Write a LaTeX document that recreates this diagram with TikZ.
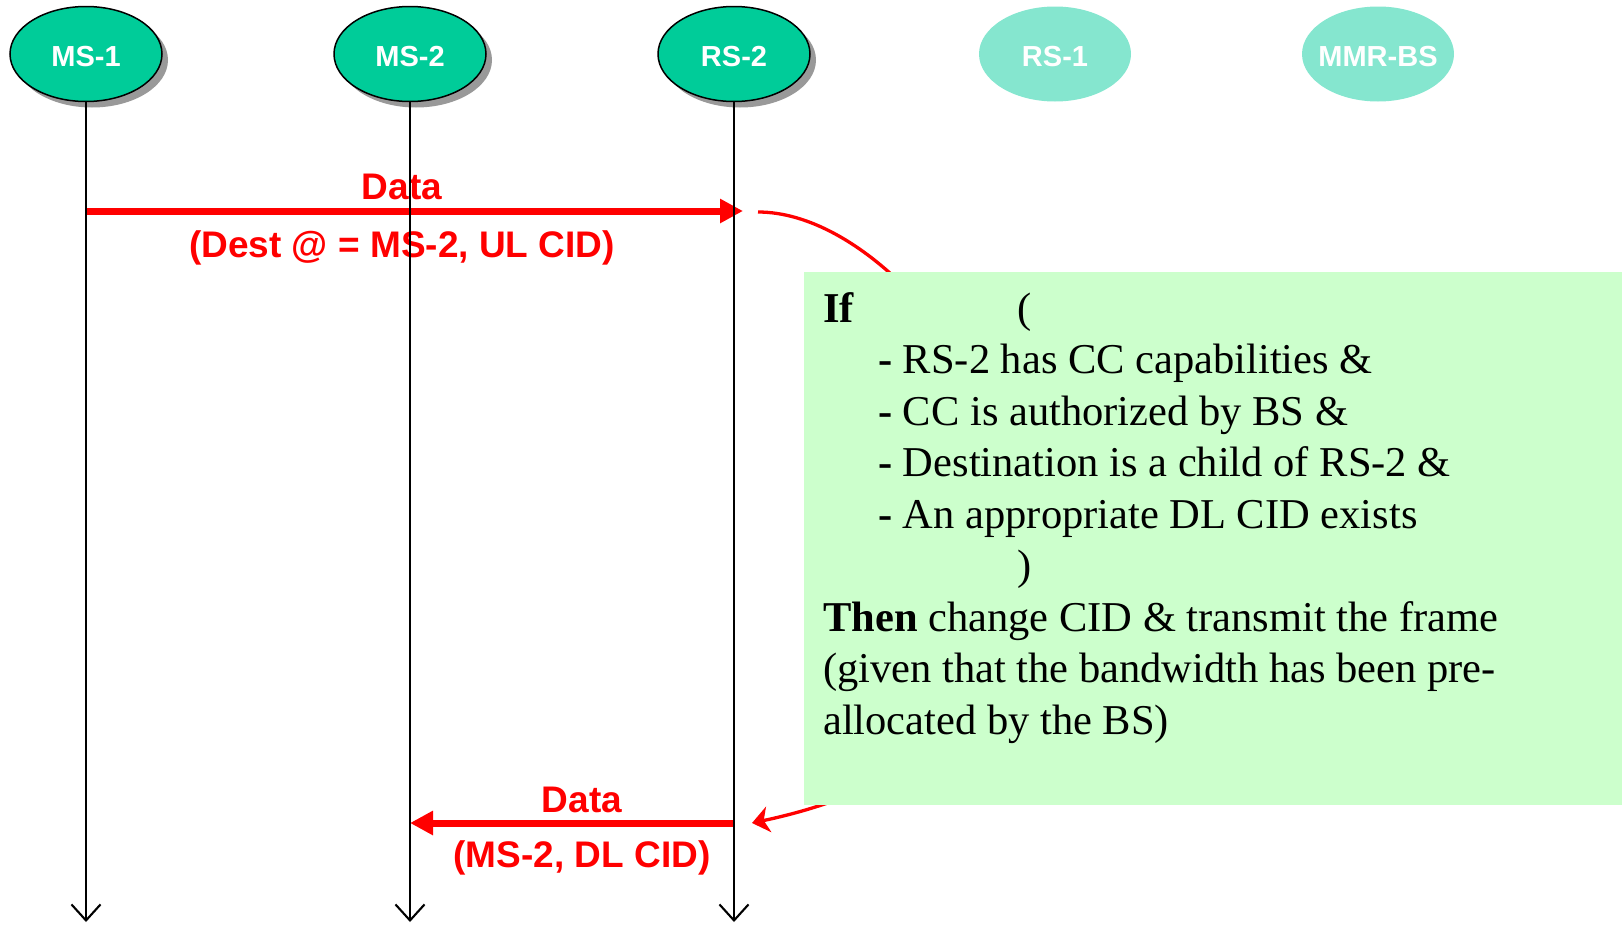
\documentclass[tikz,border=0pt]{standalone}
\usepackage{fontspec}
\setmainfont{Liberation Serif}
\newfontfamily\arialfont{Liberation Sans}
\usetikzlibrary{shapes.geometric,arrows.meta,shadows}
\definecolor{nodegreen}{HTML}{00CC99}
\definecolor{nodepale}{HTML}{85E6CF}
\definecolor{notegreen}{HTML}{CCFFCC}
\definecolor{msgred}{HTML}{FF0000}
\begin{document}
\begin{tikzpicture}[x=1pt,y=-1pt,
  station/.style={ellipse, minimum width=152pt, minimum height=95pt, inner sep=0pt,
    text height=25pt, text depth=0pt,
    font=\arialfont\bfseries\fontsize{29pt}{33pt}\selectfont, text=white},
  active/.style={station, fill=nodegreen, draw=black, line width=1.5pt,
    drop shadow={shadow xshift=6pt, shadow yshift=-6pt, fill=black!40, opacity=1}},
  idle/.style={station, fill=nodepale},
  lifeline/.style={line width=2.1pt, -{Straight Barb[length=16pt,width=29pt,line width=2.1pt]}},
  msg/.style={draw=msgred, line width=7pt, -{Triangle[length=23pt,width=23pt]}},
  msglabel/.style={text=msgred, font=\arialfont\bfseries\fontsize{37pt}{44pt}\selectfont,
    anchor=base, inner sep=0pt},
  notetext/.style={font=\fontsize{42.5pt}{51.5pt}\selectfont, anchor=base west, inner sep=0pt},
]
\useasboundingbox (0,0) rectangle (1622,924);

% stations
\node[active] (ms1) at (86,54) {MS-1};
\node[active] (ms2) at (410,54) {MS-2};
\node[active] (rs2) at (734,54) {RS-2};
\node[idle] (rs1) at (1055,54) {RS-1};
\node[idle] (bs) at (1378,54) {\makebox[0pt]{MMR-BS}};

% anchor points of the messages
\coordinate (upRow) at (0,211);
\coordinate (upTip) at (743,211);
\coordinate (downRow) at (0,823);
\coordinate (relayIn) at (758,212);
\coordinate (relayOut) at (752,823);
\coordinate (floor) at (0,922);

% relay decision curve, running behind the note
\draw[msgred, line width=3.3pt, -{Stealth[length=17pt,width=26pt,inset=5pt]}]
  (relayIn) .. controls (958,212) and (1241,719) .. (relayOut);

% decision note
\node[fill=notegreen, minimum width=818pt, minimum height=533pt, anchor=north west,
  inner sep=0pt] (note) at (804,272) {};
\node[notetext] (c1) at (823,322) {\textbf{If}};
\node[notetext] (c1b) at (1017,322) {(};
\node[notetext] (c2) at (878,373.5) {\textbf{-} RS-2 has CC capabilities \&};
\node[notetext] (c3) at (878,425) {\textbf{-} CC is authorized by BS \&};
\node[notetext] (c4) at (878,476.5) {\textbf{-} Destination is a child of RS-2 \&};
\node[notetext] (c5) at (878,528) {\textbf{-} An appropriate DL CID exists};
\node[notetext] (c6) at (1017,579.5) {)};
\node[notetext] (c7) at (823,631) {\textbf{Then} change CID \& transmit the frame};
\node[notetext] (c8) at (823,682.5) {(given that the bandwidth has been pre-};
\node[notetext] (c9) at (823,734) {allocated by the BS)};

% messages
\draw[msg] (ms1.south |- upRow) -- (upTip);
\draw[msg] (rs2.south |- downRow) -- (ms2.south |- downRow);
\node[msglabel] (dataUp) at (402,199) {Data};
\node[msglabel] (cidUp) at (402,257) {(Dest @ = MS-2, UL CID)};
\node[msglabel] (dataDown) at (582,812) {Data};
\node[msglabel] (cidDown) at (582,867) {(MS-2, DL CID)};

% lifelines
\draw[lifeline] (ms1.south) -- (ms1.south |- floor);
\draw[lifeline] (ms2.south) -- (ms2.south |- floor);
\draw[lifeline] (rs2.south) -- (rs2.south |- floor);
\end{tikzpicture}
\end{document}
